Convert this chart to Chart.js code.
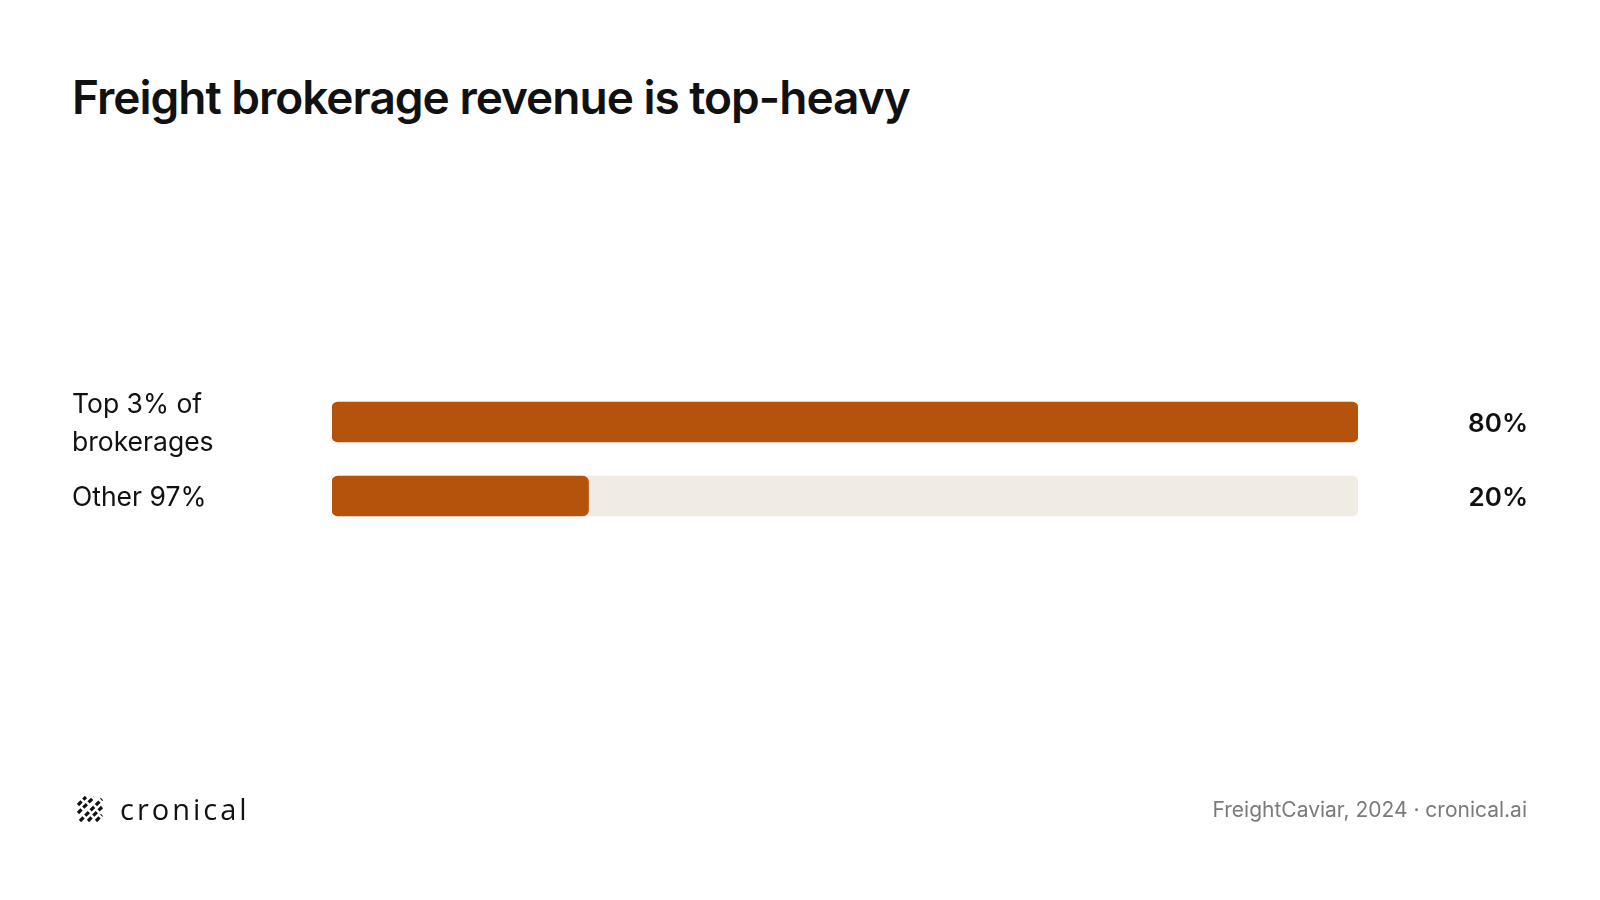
<!DOCTYPE html>
<html>
<head>
<meta charset="utf-8">
<script src="https://cdn.jsdelivr.net/npm/chart.js@4"></script>
<style>
  html, body { margin:0; padding:0; background:#ffffff; }
  body { width:1600px; height:900px; position:relative; overflow:hidden; font-family: Inter, "Noto Sans", sans-serif; }
  #title { position:absolute; left:72px; top:69px; font-size:46px; font-weight:600; color:#111111; letter-spacing:-1px; white-space:nowrap; }
  #wrap { position:absolute; left:0; top:0; width:1600px; height:900px; }
  #logo { position:absolute; left:76px; top:795px; display:flex; align-items:center; }
  #logo span { font-family: "Open Sans", sans-serif; font-size:29px; font-weight:400; color:#111; margin-left:16px; letter-spacing:3px; line-height:28px; }
  #source { position:absolute; right:73px; top:797px; font-size:21px; color:#7a7a7a; white-space:nowrap; }
</style>
</head>
<body>
<div id="title">Freight brokerage revenue is top-heavy</div>
<div id="wrap"><canvas id="c" width="1600" height="900"></canvas></div>
<div id="logo">
  <svg width="28" height="28" viewBox="0 0 28 28">
    <g stroke="#111" stroke-width="3.2" stroke-linecap="butt" stroke-dasharray="5 2.5">
      <line x1="2" y1="10" x2="10" y2="2"/>
      <line x1="2" y1="18" x2="18" y2="2"/>
      <line x1="4" y1="26" x2="26" y2="4"/>
      <line x1="12" y1="26" x2="26" y2="12"/>
      <line x1="20" y1="26" x2="26" y2="20"/>
    </g>
  </svg>
  <span>cronical</span>
</div>
<div id="source">FreightCaviar, 2024 · cronical.ai</div>
<script>
const categories = [["Top 3% of", "brokerages"], "Other 97%"];
const shareValues = [80, 20];
const valueLabels = ["80%", "20%"];
const trackValues = [80, 80];
const scaleMax = 80;

const valueLabelPlugin = {
  id: 'valueLabels',
  afterDatasetsDraw(chart) {
    const ctx = chart.ctx;
    const y = chart.scales.y;
    ctx.save();
    ctx.font = '600 26px Inter, "Noto Sans", sans-serif';
    ctx.fillStyle = '#111111';
    ctx.textAlign = 'right';
    ctx.textBaseline = 'middle';
    valueLabels.forEach((t, i) => {
      ctx.fillText(t, 1528, y.getPixelForValue(i) + 2);
    });
    ctx.restore();
  }
};

new Chart(document.getElementById('c'), {
  type: 'bar',
  data: {
    labels: categories,
    datasets: [
      {
        data: shareValues,
        backgroundColor: '#B5530C',
        borderRadius: 6,
        borderSkipped: false,
        barThickness: 40,
        order: 0
      },
      {
        data: trackValues,
        backgroundColor: '#F0EBE3',
        borderRadius: 6,
        borderSkipped: false,
        barThickness: 40,
        order: 1
      }
    ]
  },
  options: {
    indexAxis: 'y',
    responsive: false,
    animation: false,
    grouped: false,
    layout: { padding: { left: 72, right: 242, top: 385, bottom: 367 } },
    plugins: { legend: { display: false }, tooltip: { enabled: false }, title: { display: false } },
    scales: {
      x: { display: false, min: 0, max: scaleMax },
      y: {
        grid: { display: false, drawBorder: false },
        border: { display: false },
        ticks: {
          autoSkip: false,
          crossAlign: 'far',
          color: '#111111',
          padding: 0,
          labelOffset: 2,
          font: { family: 'Inter, "Noto Sans", sans-serif', size: 26.5, weight: 400, lineHeight: 1.4 }
        },
        afterFit(scale) { scale.width = 260; }
      }
    }
  },
  plugins: [valueLabelPlugin]
});
</script>
</body>
</html>
